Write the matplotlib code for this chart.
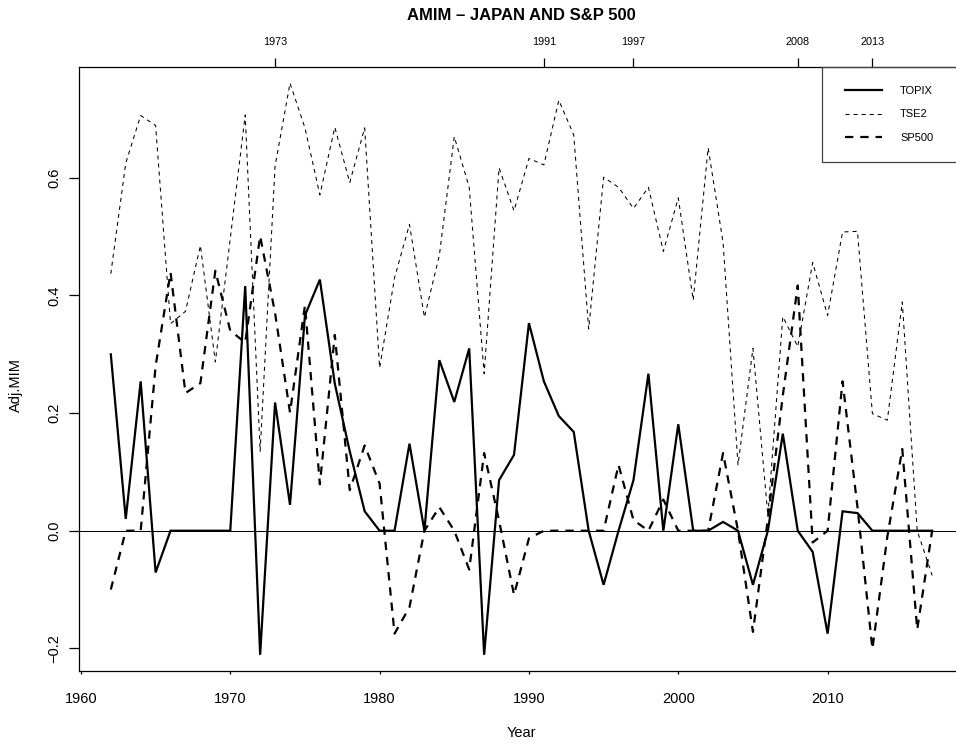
import matplotlib
matplotlib.use("Agg")
import matplotlib.pyplot as plt
from matplotlib.patches import Rectangle

# ================= DATA =================
years = list(range(1962, 2018))

topix = [0.300, 0.020, 0.254, -0.071, 0.0, 0.0, 0.0, 0.0, 0.0, 0.416,
         -0.211, 0.218, 0.044, 0.366, 0.427, 0.250, 0.135, 0.033, 0.0, 0.0,
         0.148, 0.0, 0.290, 0.219, 0.310, -0.211, 0.086, 0.129, 0.353, 0.254,
         0.195, 0.168, 0.0, -0.092, 0.0, 0.086, 0.267, 0.0, 0.181, 0.0,
         0.0, 0.015, 0.0, -0.092, 0.0, 0.165, 0.0, -0.036, -0.175, 0.033,
         0.030, 0.0, 0.0, 0.0, 0.0, 0.0]

tse2 = [0.437, 0.625, 0.706, 0.689, 0.352, 0.373, 0.485, 0.287, 0.497, 0.707,
        0.135, 0.620, 0.761, 0.685, 0.571, 0.686, 0.592, 0.685, 0.277, 0.430,
        0.521, 0.363, 0.468, 0.670, 0.584, 0.267, 0.617, 0.544, 0.633, 0.622,
        0.732, 0.673, 0.343, 0.601, 0.584, 0.548, 0.584, 0.475, 0.566, 0.392,
        0.651, 0.490, 0.112, 0.310, 0.026, 0.364, 0.313, 0.456, 0.366, 0.508,
        0.509, 0.199, 0.188, 0.389, 0.000, -0.076]

sp500 = [-0.100, 0.0, 0.0, 0.280, 0.439, 0.234, 0.251, 0.442, 0.340, 0.320,
         0.501, 0.370, 0.201, 0.383, 0.079, 0.333, 0.069, 0.145, 0.080, -0.175,
         -0.130, 0.0, 0.040, 0.0, -0.066, 0.132, 0.017, -0.109, -0.013, 0.0,
         0.0, 0.0, 0.0, 0.0, 0.112, 0.018, 0.0, 0.053, 0.0, 0.0,
         0.0, 0.132, 0.0, -0.172, 0.020, 0.230, 0.417, -0.020, 0.0, 0.254,
         0.040, -0.201, -0.010, 0.139, -0.168, 0.0]

series_names = ["TOPIX", "TSE2", "SP500"]
bottom_ticks = [1960, 1970, 1980, 1990, 2000, 2010]
top_ticks = [1973, 1991, 1997, 2008, 2013]
y_ticks = [-0.2, 0.0, 0.2, 0.4, 0.6]

# ================= STYLE =================
plt.rcParams["font.family"] = ["Liberation Sans", "DejaVu Sans"]
plt.rcParams["lines.scale_dashes"] = False

W, H = 956, 745
fig = plt.figure(figsize=(W / 100, H / 100), dpi=100)

# axes box in pixels: left 78.7, right 965 (cropped), top 66.7, bottom 670.7
ax = fig.add_axes([78.7 / W, 1 - 670.7 / H, (965 - 78.7) / W, (670.7 - 66.7) / H])

ax.plot(years, topix, color="black", lw=1.6, solid_joinstyle="miter", label=series_names[0])
ax.plot(years, tse2, color="black", lw=0.75, linestyle=(0, (2.9, 2.9)), label=series_names[1])
ax.plot(years, sp500, color="black", lw=1.6, linestyle=(0, (6.0, 5.0)), label=series_names[2])
ax.axhline(0, color="black", lw=0.75)

ax.set_xlim(1959.85, 2019.2)
ax.set_ylim(-0.238, 0.789)

for s in ax.spines.values():
    s.set_linewidth(0.9)
    s.set_color("black")

ax.set_xticks(bottom_ticks)
ax.tick_params(axis="x", direction="out", length=2.5, width=0.9, pad=13, labelsize=10.5)
ax.set_yticks(y_ticks)
ax.set_yticklabels([f"{v:.1f}".replace("-", "\u2212") for v in y_ticks], rotation=90, va="center")
ax.tick_params(axis="y", direction="out", length=7, width=0.9, pad=5.5, labelsize=10.5)

# top axis with event years
top = ax.twiny()
top.set_xlim(ax.get_xlim())
top.set_xticks(top_ticks)
top.tick_params(axis="x", direction="out", length=6.5, width=0.9, pad=7.5, labelsize=7.8)
for s in top.spines.values():
    s.set_visible(False)

fig.text(521 / W, 1 - 16 / H, "AMIM \u2013 JAPAN AND S&P 500", ha="center", va="center",
         fontsize=12, fontweight="bold")
fig.text(521 / W, 1 - 733 / H, "Year", ha="center", va="center", fontsize=10.5)
fig.text(16 / W, 1 - 385 / H, "Adj.MIM", ha="center", va="center", rotation=90, fontsize=10.5)

# legend
fig.add_artist(Rectangle((821.7 / W, 1 - 161.7 / H), (975 - 821.7) / W, (161.7 - 66.7) / H,
                         transform=fig.transFigure, fill=False, edgecolor="#444444", lw=0.9))
ax.legend(loc="upper left", bbox_to_anchor=(839 / W, 1 - 80.5 / H), bbox_transform=fig.transFigure,
          frameon=False, borderpad=0, handlelength=3.4, handletextpad=1.6,
          labelspacing=1.2, fontsize=8)

fig.savefig("out.png", dpi=100)
